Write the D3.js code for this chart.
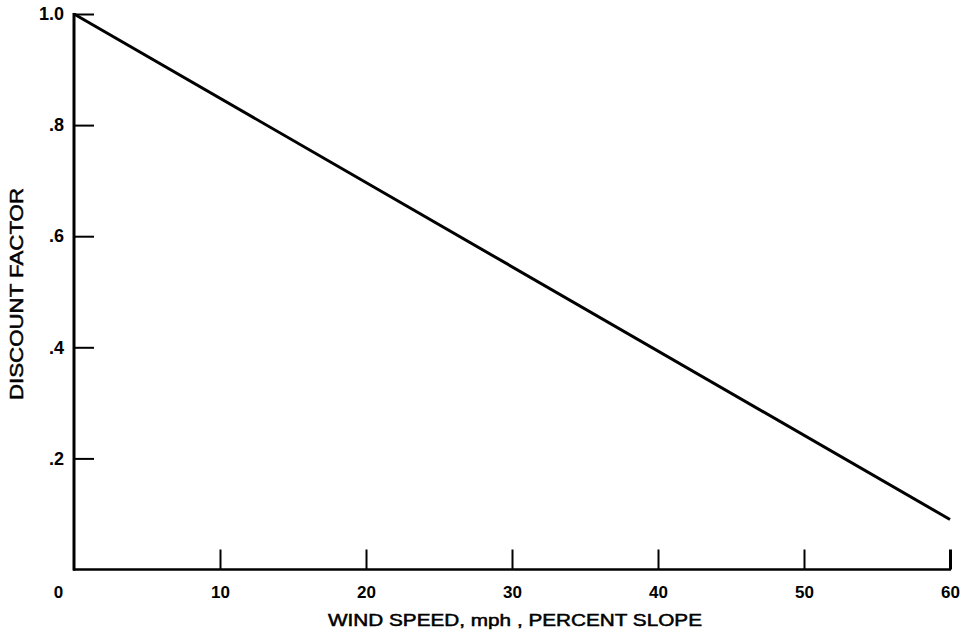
<!DOCTYPE html>
<html>
<head>
<meta charset="utf-8">
<script src="https://cdn.jsdelivr.net/npm/d3@7"></script>
<style>
  html, body { margin: 0; padding: 0; background: #fff; }
  svg { display: block; }
  text { font-family: "Liberation Sans", Arial, Helvetica, sans-serif; fill: #000; }
</style>
</head>
<body>
<svg id="chart" width="965" height="634"></svg>
<script>
// Discount factor vs. wind speed / percent slope
const speeds = [0, 60];
const factors = [1.0, 0.09];
const xTicks = [0, 10, 20, 30, 40, 50, 60];
const yTicks = [0.2, 0.4, 0.6, 0.8, 1.0];
const yTickLabels = [".2", ".4", ".6", ".8", "1.0"];
const xTitle = "WIND SPEED, mph , PERCENT SLOPE";
const yTitle = "DISCOUNT FACTOR";

const svg = d3.select("#chart");

const x = d3.scaleLinear().domain([0, 60]).range([74, 950]);
const y = d3.scaleLinear().domain([0, 1]).range([569.5, 14]);

// Axes: ticks point inward (up for x, right for y)
const xAxis = d3.axisBottom(x)
  .tickValues(xTicks)
  .tickSizeInner(-20)
  .tickSizeOuter(0)
  .tickPadding(16)
  .tickFormat(d3.format("d"));

const yAxis = d3.axisLeft(y)
  .tickValues(yTicks)
  .tickSizeInner(-20)
  .tickSizeOuter(0)
  .tickPadding(10)
  .tickFormat((d, i) => yTickLabels[i]);

const gx = svg.append("g")
  .attr("transform", `translate(0,${y(0)})`)
  .call(xAxis);
gx.attr("font-size", 17).attr("font-family", null);
gx.select(".domain").attr("stroke", "#000").attr("stroke-width", 2.5)
  .attr("d", `M${x(0) - 1},0H${x(60) + 1}`);
gx.selectAll(".tick line").attr("stroke", "#000").attr("stroke-width", 2);
gx.selectAll(".tick text")
  .style("font-size", "17px")
  .style("font-weight", "bold")
  .attr("dx", d => d === 0 ? -16 : 0);
// the zero tick sits on the y axis itself
gx.selectAll(".tick").filter(d => d === 0).select("line").remove();
gx.selectAll(".tick").filter(d => d === 60).select("line").attr("stroke-width", 3);

const gy = svg.append("g")
  .attr("transform", `translate(${x(0)},0)`)
  .call(yAxis);
gy.attr("font-size", 18).attr("font-family", null);
gy.select(".domain").attr("stroke", "#000").attr("stroke-width", 3)
  .attr("d", `M0,${y(1) - 1}V${y(0) + 1}`);
gy.selectAll(".tick line").attr("stroke", "#000").attr("stroke-width", 2);
gy.selectAll(".tick text")
  .style("font-size", "18px")
  .style("font-weight", "bold");

// Discount line
const line = d3.line()
  .x((d, i) => x(speeds[i]))
  .y(d => y(d));

svg.append("path")
  .datum(factors)
  .attr("d", line)
  .attr("fill", "none")
  .attr("stroke", "#000")
  .attr("stroke-width", 3);

// Axis titles
svg.append("text")
  .attr("x", 515)
  .attr("y", 626)
  .attr("text-anchor", "middle")
  .style("font-size", "17px")
  .attr("stroke", "#000")
  .attr("stroke-width", 0.5)
  .attr("textLength", 374)
  .attr("lengthAdjust", "spacingAndGlyphs")
  .text(xTitle);

svg.append("text")
  .attr("transform", "translate(23,294) rotate(-90)")
  .attr("text-anchor", "middle")
  .style("font-size", "18px")
  .attr("stroke", "#000")
  .attr("stroke-width", 0.5)
  .attr("textLength", 212)
  .attr("lengthAdjust", "spacingAndGlyphs")
  .text(yTitle);
</script>
</body>
</html>
